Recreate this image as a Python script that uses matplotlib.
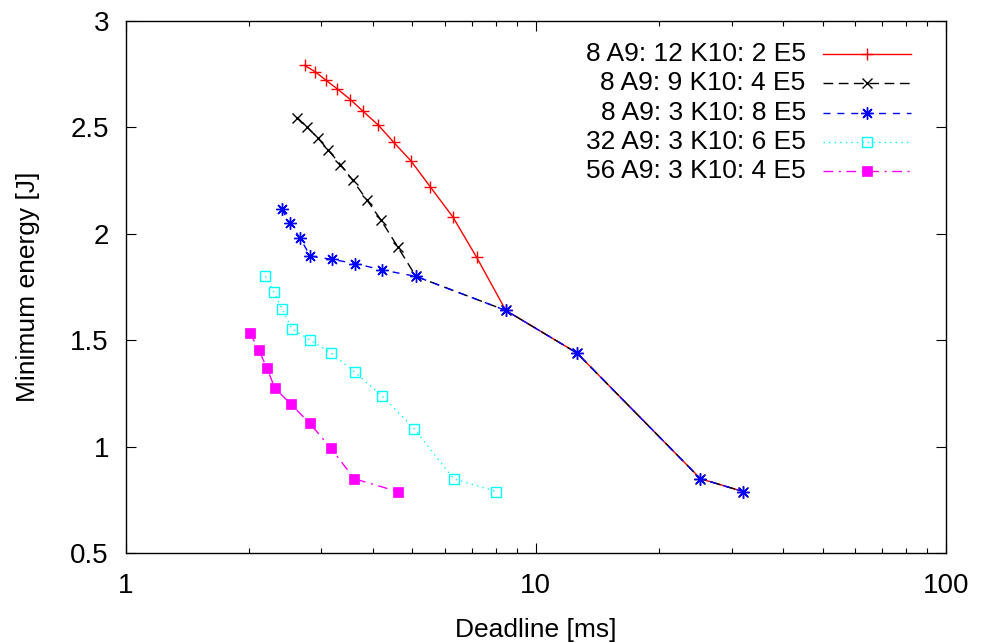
import numpy as np
import matplotlib
matplotlib.use('Agg')
import matplotlib.pyplot as plt
from matplotlib.ticker import FixedLocator, FuncFormatter, LogLocator, NullFormatter

plt.rcParams['font.family'] = ['Liberation Sans', 'DejaVu Sans']

# series data (deadline in ms, minimum energy in J)
labels = ['8 A9: 12 K10: 2 E5', '8 A9: 9 K10: 4 E5', '8 A9: 3 K10: 8 E5',
          '32 A9: 3 K10: 6 E5', '56 A9: 3 K10: 4 E5']

red_x = [2.73, 2.90, 3.08, 3.28, 3.53, 3.79, 4.13, 4.50, 4.97, 5.53, 6.27, 7.17, 8.45, 12.6, 25.2, 32.0]
red_y = [2.79, 2.76, 2.72, 2.68, 2.63, 2.575, 2.51, 2.43, 2.34, 2.22, 2.08, 1.89, 1.64, 1.44, 0.85, 0.79]

black_x = [2.62, 2.77, 2.94, 3.11, 3.34, 3.58, 3.87, 4.19, 4.60, 5.1, 8.45, 12.6, 25.2, 32.0]
black_y = [2.545, 2.50, 2.45, 2.395, 2.325, 2.25, 2.16, 2.065, 1.94, 1.80, 1.64, 1.44, 0.85, 0.79]

blue_x = [2.40, 2.52, 2.66, 2.82, 3.18, 3.63, 4.22, 5.1, 8.45, 12.6, 25.2, 32.0]
blue_y = [2.115, 2.05, 1.98, 1.895, 1.88, 1.86, 1.83, 1.80, 1.64, 1.44, 0.85, 0.79]

cyan_x = [2.19, 2.30, 2.41, 2.54, 2.82, 3.17, 3.62, 4.21, 5.05, 6.3, 8.0]
cyan_y = [1.80, 1.725, 1.645, 1.555, 1.50, 1.44, 1.35, 1.24, 1.085, 0.85, 0.79]

mag_x = [2.01, 2.11, 2.21, 2.31, 2.53, 2.81, 3.16, 3.61, 4.6]
mag_y = [1.535, 1.455, 1.37, 1.275, 1.20, 1.11, 0.995, 0.85, 0.79]

xticks = [1, 10, 100]
yticks = [0.5, 1, 1.5, 2, 2.5, 3]

styles = [
    dict(color='#ff0000', ls='-', marker='+', ms=8, mew=1.0, mfc='none'),
    dict(color='#000000', ls=(0, (7, 4)), marker='x', ms=7, mew=1.0, mfc='none'),
    dict(color='#0000ff', ls=(0, (5, 5)), marker=(8, 2, 0), ms=9, mew=1.0, mfc='none'),
    dict(color='#00ffff', ls=(0, (1, 3)), marker='s', ms=7, mew=1.0, mfc='none'),
    dict(color='#ff00ff', ls=(0, (7, 4, 1.5, 4)), marker='s', ms=7, mew=0.5, mfc='#ff00ff'),
]
series = [(red_x, red_y), (black_x, black_y), (blue_x, blue_y), (cyan_x, cyan_y), (mag_x, mag_y)]

fig = plt.figure(figsize=(9.81, 6.43), dpi=100)
ax = fig.add_axes([0.1281, 0.1395, 0.8362, 0.8283])

for (xs, ys), st in zip(series, styles):
    ax.plot(xs, ys, lw=1.0, **st)

ax.set_xscale('log')
ax.set_xlim(1, 100)
ax.set_ylim(0.5, 3)
ax.xaxis.set_major_locator(FixedLocator(xticks))
ax.xaxis.set_major_formatter(FuncFormatter(lambda v, p: '%g' % v))
ax.xaxis.set_minor_locator(LogLocator(base=10, subs=np.arange(2, 10)))
ax.xaxis.set_minor_formatter(NullFormatter())
ax.yaxis.set_major_locator(FixedLocator(yticks))
ax.yaxis.set_major_formatter(FuncFormatter(lambda v, p: '%g' % v))

ax.tick_params(which='both', direction='in', top=True, right=True, labelsize=20, width=0.8)
ax.tick_params(which='major', length=7)
ax.tick_params(axis='x', which='major', pad=14)
ax.tick_params(axis='y', which='major', pad=12)
ax.tick_params(which='minor', length=3.5)
for s in ax.spines.values():
    s.set_linewidth(1.0)

ax.set_xlabel('Deadline [ms]', fontsize=19, labelpad=14)
ax.set_ylabel('Minimum energy [J]', fontsize=19, labelpad=22)

# gnuplot-style key: right aligned text, sample line on the right
for i, (lab, st) in enumerate(zip(labels, styles)):
    yy = 0.9375 - i * 0.055
    ax.text(0.829, yy, lab, transform=ax.transAxes, ha='right', va='center', fontsize=19)
    ax.plot([0.8497, 0.957], [yy, yy], transform=ax.transAxes, lw=1.0,
            color=st['color'], ls=st['ls'], clip_on=False)
    ax.plot([0.9033], [yy], transform=ax.transAxes, ls='none', color=st['color'],
            marker=st['marker'], ms=st['ms'], mew=st['mew'], mfc=st['mfc'], clip_on=False)

fig.savefig('out.png', dpi=100)
